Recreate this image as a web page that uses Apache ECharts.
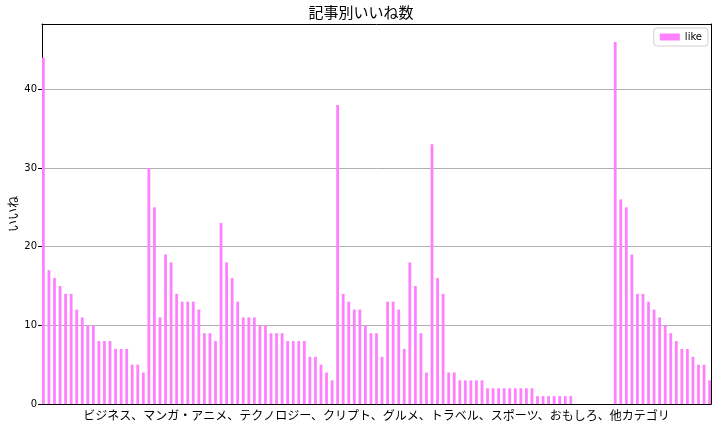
<!DOCTYPE html>
<html>
<head>
<meta charset="utf-8">
<script src="https://cdn.jsdelivr.net/npm/echarts@6/dist/echarts.min.js"></script>
<style>html,body{margin:0;padding:0;background:#fff}#c{width:722px;height:427px}</style>
</head>
<body>
<div id="c"></div>
<script>
const title = "記事別いいね数";
const xName = "ビジネス、マンガ・アニメ、テクノロジー、クリプト、グルメ、トラベル、スポーツ、おもしろ、他カテゴリ";
const yName = "いいね";
const seriesName = "like";
const likes = [
  44,17,16,15,14,14,12,11,10,10,8,8,8,7,7,7,5,5,4,
  30,25,11,19,18,14,13,13,13,12,9,9,8,
  23,18,16,13,11,11,11,10,10,9,9,9,8,8,8,8,6,6,5,4,3,
  38,14,13,12,12,10,9,9,6,
  13,13,12,7,18,15,9,4,
  33,16,14,4,4,3,3,3,3,3,
  2,2,2,2,2,2,2,2,2,
  1,1,1,1,1,1,1,
  0,0,0,0,0,0,0,
  46,26,25,19,14,14,13,12,11,10,9,8,7,7,6,5,5,3
];
const yTicks = [0,10,20,30,40];
const yMax = Math.max(...likes) * 1.05;

const chart = echarts.init(document.getElementById('c'), null, {renderer:'canvas'});
const fontJP = '"Noto Sans CJK JP", sans-serif';
const fontLat = '"DejaVu Sans", sans-serif';
const frameAxis = {
  axisLine: {show: true, onZero: false, lineStyle: {color: '#000', width: 1}},
  axisTick: {show: false}, axisLabel: {show: false}, splitLine: {show: false}
};
chart.setOption({
  animation: false,
  backgroundColor: '#fff',
  title: {
    text: title, left: 'center', top: 0,
    textStyle: {fontFamily: fontJP, fontSize: 15, fontWeight: 'normal', color: '#000'}
  },
  legend: {
    data: [seriesName], right: 14, top: 28,
    itemWidth: 20, itemHeight: 7, padding: [4, 6],
    borderColor: '#d0d0d0', borderWidth: 1, borderRadius: 3,
    textStyle: {fontFamily: fontLat, fontSize: 10, color: '#000'},
    icon: 'rect'
  },
  grid: {left: 42, right: 11, top: 24, bottom: 23, containLabel: false, outerBoundsMode: 'none'},
  xAxis: [Object.assign({
    type: 'value', min: -0.25, max: likes.length - 0.75,
    name: xName, nameLocation: 'middle', nameGap: 5, nameMoveOverlap: false,
    nameTextStyle: {fontFamily: fontJP, fontSize: 12, color: '#000'}
  }, frameAxis), Object.assign({
    type: 'value', position: 'top', min: -0.25, max: likes.length - 0.75
  }, frameAxis)],
  yAxis: [{
    type: 'value', min: 0, max: yMax, interval: 10,
    name: yName, nameLocation: 'middle', nameGap: 23, nameRotate: 90, nameMoveOverlap: false,
    nameTextStyle: {fontFamily: fontJP, fontSize: 12, color: '#000'},
    axisLine: {show: true, onZero: false, lineStyle: {color: '#000', width: 1}},
    axisTick: {show: true, length: 4, lineStyle: {color: '#000'}, customValues: yTicks},
    axisLabel: {fontFamily: fontLat, fontSize: 10, color: '#000', margin: 5, customValues: yTicks},
    splitLine: {show: true, lineStyle: {color: '#b0b0b0', width: 1}}
  }, Object.assign({
    type: 'value', position: 'right', min: 0, max: yMax
  }, frameAxis)],
  series: [{
    name: seriesName, type: 'bar', xAxisIndex: 0, yAxisIndex: 0,
    data: likes.map((v, i) => [i, v]),
    barWidth: 2.8,
    itemStyle: {color: '#ff80ff'}
  }]
});
</script>
</body>
</html>
